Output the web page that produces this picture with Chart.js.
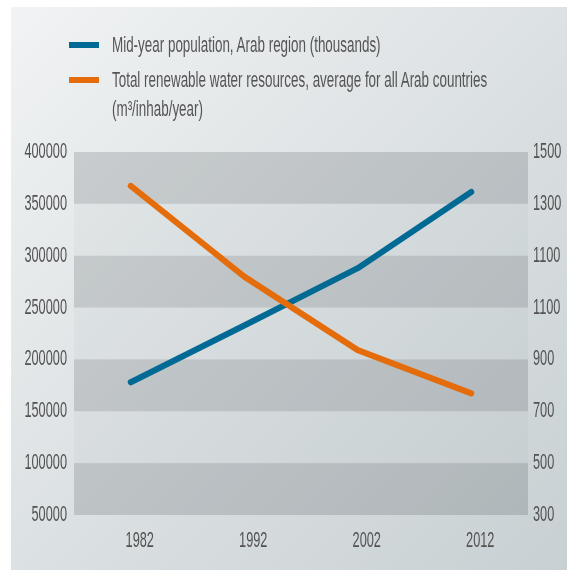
<!DOCTYPE html>
<html>
<head>
<meta charset="utf-8">
<title>Population and renewable water resources, Arab region</title>
<script src="https://cdn.jsdelivr.net/npm/chart.js@4.4.0/dist/chart.umd.min.js"></script>
<style>
    body { margin: 0; background: #fff; }
    #wrap { position: relative; width: 567px; height: 572px; }
    #panel {
        position: absolute; left: 11px; top: 7px; right: 0; bottom: 2px;
        background: linear-gradient(135deg, #f1f3f4 0%, #dce1e3 50%, #c8d0d3 100%);
    }
    #chart { position: absolute; left: 0; top: 0; }
    #legend {
        position: absolute; left: 69px; top: 30px;
        font-family: 'Liberation Sans', Arial, sans-serif;
        font-size: 22px; color: #555;
    }
    #legend .item { position: relative; padding-left: 43px; line-height: 29px; margin-bottom: 6px; }
    #legend .swatch { position: absolute; left: 0; top: 11.5px; width: 30px; height: 6px; }
    #legend .text { display: inline-block; white-space: nowrap; transform: scaleX(0.61); transform-origin: 0 0; }
</style>
</head>
<body>
<div id="wrap">
    <div id="panel"></div>
    <canvas id="chart" width="567" height="572"></canvas>
    <div id="legend"></div>
</div>
<script>
const years = ['1982', '1992', '2002', '2012'];
const population = [178000, 232700, 288000, 361400];      // thousands
const waterPerCapita = [1388, 1088, 845, 702];             // m3/inhab/year
const rightTickLabels = ['300', '500', '700', '900', '1100', '1100', '1300', '1500'];

const FONT = "'Liberation Sans', Arial, sans-serif";
const TEXT = '#525252';
const TICK_SIZE = 22;
const SQUEEZE = 0.58;   // horizontal squeeze for a condensed look

// alternating grey bands behind the lines, one per left-axis step
const bandPlugin = {
    id: 'bands',
    beforeDatasetsDraw(chart) {
        const { ctx, chartArea, scales: { y } } = chart;
        const ticks = y.ticks;
        ctx.save();
        for (let i = 0; i < ticks.length - 1; i++) {
            const top = y.getPixelForValue(ticks[i + 1].value);
            const bottom = y.getPixelForValue(ticks[i].value);
            ctx.fillStyle = i % 2 === 0 ? 'rgba(40, 50, 55, 0.17)' : 'rgba(40, 50, 55, 0.03)';
            ctx.fillRect(chartArea.left, top, chartArea.width, bottom - top);
        }
        ctx.restore();
    }
};

// tick labels drawn narrow: same ticks and pixels as the scales, text squeezed sideways
const condensedTicks = {
    id: 'condensedTicks',
    afterDraw(chart) {
        const ctx = chart.ctx;
        ctx.save();
        ctx.fillStyle = TEXT;
        ctx.font = `${TICK_SIZE}px ${FONT}`;
        ctx.textBaseline = 'middle';
        Object.values(chart.scales).forEach(scale => {
            scale.ticks.forEach((tick, i) => {
                const p = scale.getPixelForTick(i);
                let x, y;
                if (scale.axis === 'x') {
                    x = p + 9; y = scale.top + 26; ctx.textAlign = 'center';
                } else if (scale.position === 'left') {
                    x = scale.right - 7; y = p; ctx.textAlign = 'right';
                } else {
                    x = scale.left + 5; y = p; ctx.textAlign = 'left';
                }
                ctx.save();
                ctx.translate(x, y);
                ctx.scale(SQUEEZE, 1);
                ctx.fillText(tick.label, 0, 0);
                ctx.restore();
            });
        });
        ctx.restore();
    }
};

const hiddenTicks = { color: 'rgba(0,0,0,0)', font: { family: FONT, size: TICK_SIZE } };

const chart = new Chart(document.getElementById('chart'), {
    type: 'line',
    data: {
        labels: years,
        datasets: [{
            label: 'Mid-year population, Arab region (thousands)',
            data: population,
            yAxisID: 'y',
            borderColor: '#006a94',
            order: 1
        }, {
            label: 'Total renewable water resources, average for all Arab countries\n(m³/inhab/year)',
            data: waterPerCapita,
            yAxisID: 'y1',
            borderColor: '#e46c0b',
            order: 0
        }]
    },
    options: {
        responsive: false,
        animation: false,
        devicePixelRatio: 1,
        layout: { padding: { top: 152, left: 0, right: 0, bottom: 0 } },
        elements: {
            line: { borderWidth: 6, tension: 0, borderCapStyle: 'round', borderJoinStyle: 'round' },
            point: { radius: 0 }
        },
        plugins: {
            legend: { display: false },
            tooltip: { enabled: false }
        },
        scales: {
            x: {
                offset: true,
                grid: { display: false },
                border: { display: false },
                ticks: hiddenTicks,
                afterFit: s => { s.height = 57; }
            },
            y: {
                position: 'left',
                min: 50000,
                max: 400000,
                grid: { display: false },
                border: { display: false },
                ticks: { ...hiddenTicks, stepSize: 50000, callback: v => String(v) },
                afterFit: s => { s.width = 74; }
            },
            y1: {
                position: 'right',
                min: 300,
                max: 1500,
                grid: { display: false },
                border: { display: false },
                ticks: { ...hiddenTicks, callback: (value, index) => rightTickLabels[index] },
                // eight evenly spaced ticks, lined up with the left axis steps
                afterBuildTicks: s => {
                    const step = (s.max - s.min) / (rightTickLabels.length - 1);
                    s.ticks = rightTickLabels.map((_, i) => ({ value: s.min + i * step }));
                },
                afterFit: s => { s.width = 39; }
            }
        }
    },
    plugins: [bandPlugin, condensedTicks]
});

// legend as html so the long label can wrap onto two lines
const legendEl = document.getElementById('legend');
chart.data.datasets.forEach(ds => {
    const row = document.createElement('div');
    row.className = 'item';
    row.innerHTML = `<span class="swatch" style="background:${ds.borderColor}"></span>` +
        `<span class="text">${ds.label.split('\n').join('<br>')}</span>`;
    legendEl.appendChild(row);
});
</script>
</body>
</html>
